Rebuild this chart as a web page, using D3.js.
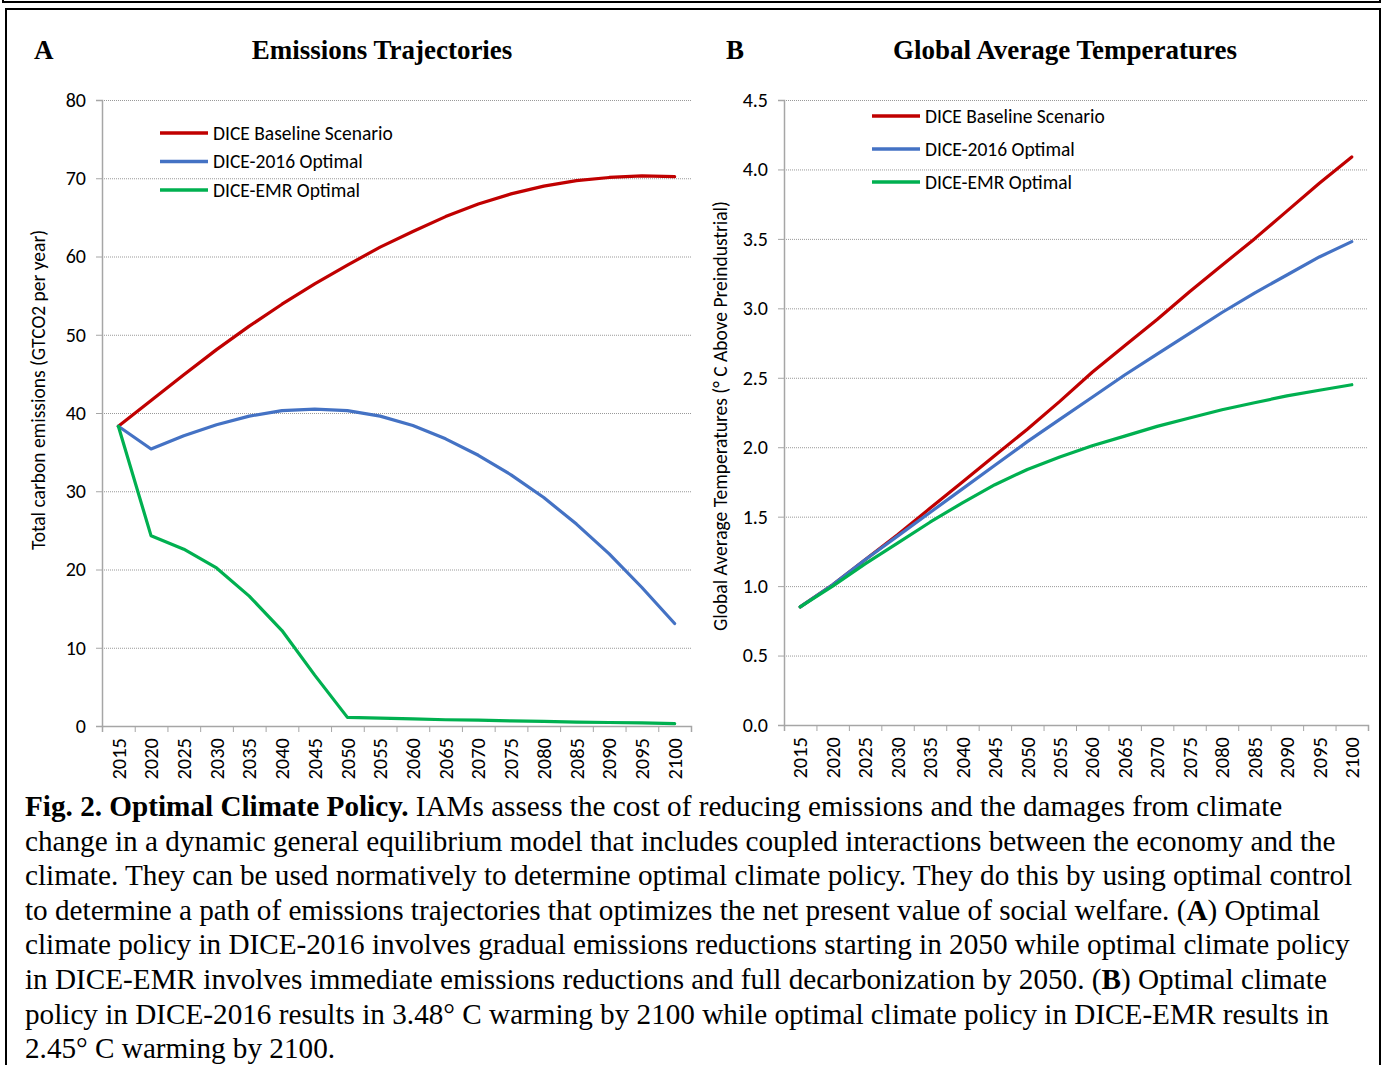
<!DOCTYPE html>
<html>
<head>
<meta charset="utf-8">
<script src="https://cdn.jsdelivr.net/npm/d3@7"></script>
<style>
  body { margin: 0; background: #fff; }
  .tick text { font-family: Carlito, Calibri, Lato, sans-serif; }
</style>
</head>
<body>
<div id="chart"></div>
<script>
// categories (years)
var years = ["2015","2020","2025","2030","2035","2040","2045","2050","2055","2060",
             "2065","2070","2075","2080","2085","2090","2095","2100"];

// panel A: total carbon emissions (GTCO2 per year)
var emisBaseline = [38.3, 41.6, 44.9, 48.1, 51.1, 53.9, 56.5, 58.9, 61.2, 63.2,
                    65.1, 66.7, 68.0, 69.0, 69.7, 70.1, 70.3, 70.2];
var emis2016 = [38.3, 35.4, 37.1, 38.5, 39.6, 40.3, 40.5, 40.3, 39.6, 38.4,
                36.7, 34.6, 32.1, 29.2, 25.8, 22.0, 17.7, 13.1];
var emisEMR = [38.3, 24.3, 22.6, 20.2, 16.6, 12.2, 6.5, 1.1, 1.0, 0.9,
               0.8, 0.75, 0.65, 0.6, 0.5, 0.45, 0.4, 0.3];

// panel B: global average temperature (deg C above preindustrial)
var tempBaseline = [0.85, 1.01, 1.19, 1.37, 1.56, 1.75, 1.94, 2.13, 2.33, 2.54,
                    2.73, 2.92, 3.12, 3.31, 3.50, 3.70, 3.90, 4.09];
var temp2016 = [0.85, 1.01, 1.19, 1.36, 1.53, 1.70, 1.87, 2.04, 2.20, 2.36,
                2.52, 2.67, 2.82, 2.97, 3.11, 3.24, 3.37, 3.48];
var tempEMR = [0.85, 1.00, 1.16, 1.31, 1.46, 1.60, 1.73, 1.84, 1.93, 2.01,
               2.08, 2.15, 2.21, 2.27, 2.32, 2.37, 2.41, 2.45];

var emisTicks = [0, 10, 20, 30, 40, 50, 60, 70, 80];
var tempTicks = [0, 0.5, 1.0, 1.5, 2.0, 2.5, 3.0, 3.5, 4.0, 4.5];

var seriesNames = ["DICE Baseline Scenario", "DICE-2016 Optimal", "DICE-EMR Optimal"];
var seriesColors = ["#C00000", "#4472C4", "#00B050"];

var sans = "Carlito, Calibri, Lato, sans-serif";
var serif = "'Liberation Serif', 'Times New Roman', serif";

var W = 1384, H = 1065;
var svg = d3.select("#chart").append("svg").attr("width", W).attr("height", H);

// frame: bottom edge of the box above, then the figure box
svg.append("rect").attr("x", 3).attr("y", -20).attr("width", 1377).attr("height", 22)
  .attr("fill", "none").attr("stroke", "#000").attr("stroke-width", 2);
svg.append("rect").attr("x", 6).attr("y", 9).attr("width", 1374).attr("height", 1100)
  .attr("fill", "none").attr("stroke", "#000").attr("stroke-width", 2);

function drawPanel(opt) {
  var g = svg.append("g");
  var x = d3.scaleBand().domain(years).range([opt.left, opt.right]).padding(0);
  var xIdx = d3.scaleLinear().domain([0, years.length]).range([opt.left, opt.right]);
  var y = d3.scaleLinear().domain(opt.yDomain).range([opt.bottom, opt.top]);

  // dotted gridlines
  var grid = g.append("g").attr("transform", "translate(" + opt.left + ",0)")
    .call(d3.axisLeft(y).tickValues(opt.yTicks.slice(1)).tickSize(-(opt.right - opt.left)).tickFormat(""));
  grid.select(".domain").remove();
  grid.selectAll("line").attr("stroke", "#999").attr("stroke-dasharray", "1,1");

  // y axis
  var ya = g.append("g").attr("transform", "translate(" + opt.left + ",0)")
    .call(d3.axisLeft(y).tickValues(opt.yTicks).tickSize(6).tickPadding(10).tickFormat(opt.yFormat));
  ya.select(".domain").attr("stroke", "#a6a6a6").attr("stroke-width", 1.5);
  ya.selectAll("line").attr("stroke", "#a6a6a6");
  ya.selectAll("text").attr("font-size", 20).attr("fill", "#000");

  // x axis: ticks between categories
  var xt = g.append("g").attr("transform", "translate(0," + opt.bottom + ")")
    .call(d3.axisBottom(xIdx).tickValues(d3.range(years.length + 1)).tickSize(6).tickFormat(""));
  xt.select(".domain").attr("stroke", "#a6a6a6").attr("stroke-width", 1.5);
  xt.selectAll("line").attr("stroke", "#a6a6a6");

  // x axis labels, rotated
  var xl = g.append("g").attr("transform", "translate(0," + opt.bottom + ")")
    .call(d3.axisBottom(x).tickSize(0));
  xl.select(".domain").remove();
  xl.selectAll("text")
    .attr("font-size", 20.5).attr("fill", "#000")
    .attr("transform", "rotate(-90)")
    .attr("text-anchor", "end")
    .attr("x", -12).attr("y", 0).attr("dy", "0.35em");

  // lines
  var line = d3.line()
    .x(function (d, i) { return x(years[i]) + x.bandwidth() / 2; })
    .y(function (d) { return y(d); });
  opt.series.forEach(function (s, i) {
    g.append("path").datum(s).attr("d", line)
      .attr("fill", "none").attr("stroke", seriesColors[i])
      .attr("stroke-width", 3.2).attr("stroke-linejoin", "round").attr("stroke-linecap", "round");
  });

  // legend
  seriesNames.forEach(function (name, i) {
    var ly = opt.legY + i * opt.legStep;
    g.append("line").attr("x1", opt.legX).attr("x2", opt.legX + 48)
      .attr("y1", ly).attr("y2", ly)
      .attr("stroke", seriesColors[i]).attr("stroke-width", 3.5);
    g.append("text").attr("x", opt.legX + 53).attr("y", ly).attr("dy", "0.35em")
      .attr("font-family", sans).attr("font-size", 19.5)
      .text(name);
  });

  // y title
  g.append("text")
    .attr("transform", "translate(" + opt.yTitleX + "," + opt.yTitleY + ") rotate(-90)")
    .attr("text-anchor", "middle")
    .attr("font-family", sans).attr("font-size", 19.5)
    .text(opt.yTitle);

  // panel letter and title
  g.append("text").attr("x", opt.letterX).attr("y", 59)
    .attr("font-family", serif)
    .attr("font-weight", "bold").attr("font-size", 27).text(opt.letter);
  g.append("text").attr("x", opt.titleX).attr("y", 59).attr("text-anchor", "middle")
    .attr("font-family", serif)
    .attr("font-weight", "bold").attr("font-size", 27).text(opt.title);
}

drawPanel({
  left: 102, right: 691, top: 100, bottom: 726,
  yDomain: [0, 80], yTicks: emisTicks, yFormat: d3.format("d"),
  series: [emisBaseline, emis2016, emisEMR],
  legX: 160, legY: 133, legStep: 28.5,
  yTitle: "Total carbon emissions (GTCO2 per year)", yTitleX: 45, yTitleY: 390,
  letter: "A", letterX: 34, title: "Emissions Trajectories", titleX: 382
});

drawPanel({
  left: 784, right: 1368, top: 100, bottom: 725,
  yDomain: [0, 4.5], yTicks: tempTicks, yFormat: d3.format(".1f"),
  series: [tempBaseline, temp2016, tempEMR],
  legX: 872, legY: 116, legStep: 33,
  yTitle: "Global Average Temperatures (\u00B0 C Above Preindustrial)", yTitleX: 727, yTitleY: 416,
  letter: "B", letterX: 726, title: "Global Average Temperatures", titleX: 1065
});

// caption
var captionLines = [
  [["b", "Fig. 2. Optimal Climate Policy."], ["n", " IAMs assess the cost of reducing emissions and the damages from climate"]],
  [["n", "change in a dynamic general equilibrium model that includes coupled interactions between the economy and the"]],
  [["n", "climate. They can be used normatively to determine optimal climate policy. They do this by using optimal control"]],
  [["n", "to determine a path of emissions trajectories that optimizes the net present value of social welfare. ("], ["b", "A"], ["n", ") Optimal"]],
  [["n", "climate policy in DICE-2016 involves gradual emissions reductions starting in 2050 while optimal climate policy"]],
  [["n", "in DICE-EMR involves immediate emissions reductions and full decarbonization by 2050. ("], ["b", "B"], ["n", ") Optimal climate"]],
  [["n", "policy in DICE-2016 results in 3.48\u00B0 C warming by 2100 while optimal climate policy in DICE-EMR results in"]],
  [["n", "2.45\u00B0 C warming by 2100."]]
];
var cap = svg.append("g")
  .attr("font-family", serif)
  .attr("font-size", 29.2);
captionLines.forEach(function (parts, i) {
  var t = cap.append("text").attr("x", 25).attr("y", 816 + i * 34.6).attr("xml:space", "preserve");
  parts.forEach(function (p) {
    t.append("tspan").attr("font-weight", p[0] == "b" ? "bold" : "normal").text(p[1]);
  });
});
</script>
</body>
</html>
